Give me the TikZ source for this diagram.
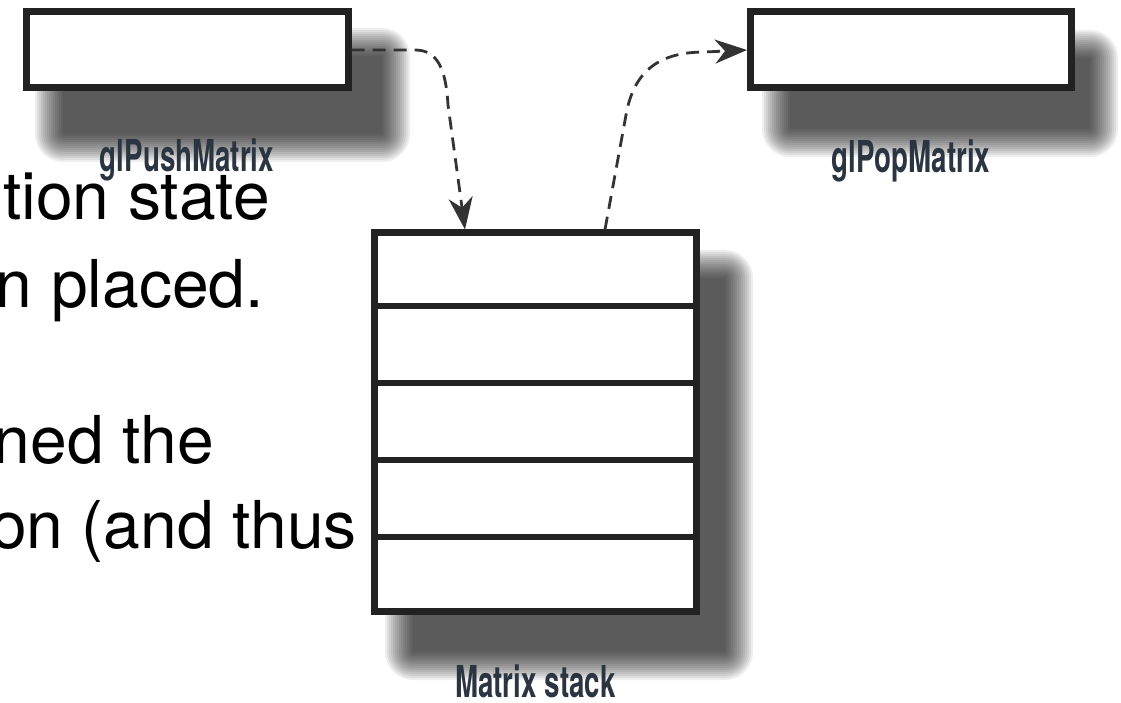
\documentclass[tikz,border=0pt]{standalone}
\usepackage{fontspec}
\setmainfont{TeX Gyre Heros}
\usetikzlibrary{arrows.meta,calc}
\definecolor{ink}{HTML}{222222}
\definecolor{labelink}{HTML}{2B3441}
\definecolor{dashink}{HTML}{333333}
% soft drop shadow: stacked translucent rectangles around a core x1,y1,x2,y2
\newcommand{\softshadow}[4]{%
  \foreach \r in {28,26,...,0}{%
    \fill[black,fill opacity=0.066,rounded corners=\r pt] (#1-\r,#2-\r) rectangle (#3+\r,#4+\r);
  }}
\begin{document}
\begin{tikzpicture}[x=1pt,y=-1pt,
  box/.style={draw=ink,line width=7pt,fill=white,inner sep=0pt},
  tag/.style={font=\bfseries\fontsize{44}{44}\selectfont,text=labelink,anchor=base,inner sep=0pt},
  flow/.style={draw=dashink,line width=2.8pt,dash pattern=on 13pt off 8pt,
    -{Stealth[length=32pt,width=24pt,inset=10pt]}},
  prose/.style={font=\fontsize{66}{66}\selectfont,anchor=base east,inner sep=0pt}]
\useasboundingbox (0,0) rectangle (1121,703);
\clip (0,0) rectangle (1121,703);

% running text behind the figure
\node[prose] (l1) at (270,220) {tion state};
\node[prose] (l2) at (264,307) {n placed.};
\node[prose] (l3) at (214,463) {ned the};
\node[prose] (l4) at (357,548) {on (and thus};

% shadows
\softshadow{63}{56}{382}{134}
\softshadow{790}{58}{1090}{129}
\softshadow{413}{278}{725}{652}

% boxes
\node[box,minimum width=322pt,minimum height=76pt] (push) at (187,50) {};
\node[box,minimum width=321pt,minimum height=76pt] (pop) at (911,50) {};
\node[box,minimum width=322pt,minimum height=378pt] (stack) at (535.5,422) {};
\foreach \k in {1,...,4}
  \draw[ink,line width=6pt] ($(stack.north west)!\k/5!(stack.south west)$)
    -- ($(stack.north east)!\k/5!(stack.south east)$);

% labels
\node[tag] (pushlbl) at (187,172) {\scalebox{0.63}[1]{glPushMatrix}};
\node[tag] (poplbl) at (911,173) {\scalebox{0.63}[1]{glPopMatrix}};
\node[tag] (stacklbl) at (535.5,697) {\scalebox{0.63}[1]{Matrix stack}};

% push / pop arrows
\coordinate (pushin) at (465,0 |- stack.north);
\coordinate (popout) at (605,0 |- stack.north);
\draw[flow] (push.east) -- (415,50) .. controls (438,50) and (446,70) .. (448,105) -- (pushin);
\draw[flow] (popout) -- (626,115) .. controls (634,70) and (660,52) .. (705,52) -- (pop.west);
\end{tikzpicture}
\end{document}
